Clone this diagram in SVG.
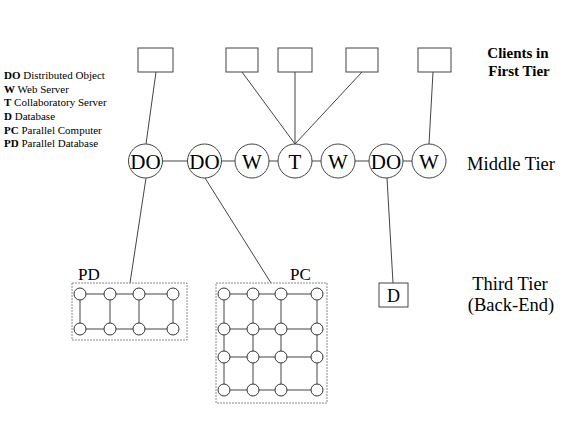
<svg xmlns="http://www.w3.org/2000/svg" width="575" height="431" viewBox="0 0 575 431">
<style>
.box{fill:#fff;stroke:#444;stroke-width:1}
.node{fill:#fff;stroke:#444;stroke-width:1}
.lbl{font-size:21px;text-anchor:middle}
.edge{stroke:#444;stroke-width:1;fill:none}
.cl{fill:none;stroke:#888;stroke-width:1;stroke-dasharray:2 1}
.sm{fill:#fff;stroke:#333;stroke-width:1}
.leg{font-size:11px}
.tier{font-size:18.5px}
</style>
<rect width="575" height="431" fill="#fff"/>
<g font-family="Liberation Serif" fill="#000">
<g id="connectors">
<line class="edge" x1="156" y1="72" x2="146" y2="144"/>
<line class="edge" x1="242" y1="72" x2="295" y2="144"/>
<line class="edge" x1="295" y1="72" x2="295" y2="144"/>
<line class="edge" x1="362" y1="72" x2="295" y2="144"/>
<line class="edge" x1="433" y1="72" x2="429" y2="144"/>
<line class="edge" x1="145" y1="161" x2="429" y2="161"/>
<line class="edge" x1="146" y1="178" x2="130" y2="283"/>
<line class="edge" x1="205" y1="178" x2="271" y2="283"/>
<line class="edge" x1="387" y1="178" x2="393" y2="283"/>
</g>
<g id="clients">
<rect id="client1" class="box" x="138" y="48" width="35" height="24"/>
<rect id="client2" class="box" x="226" y="48" width="32" height="24"/>
<rect id="client3" class="box" x="278" y="48" width="34" height="24"/>
<rect id="client4" class="box" x="346" y="48" width="32" height="24"/>
<rect id="client5" class="box" x="418" y="48" width="33" height="24"/>
</g>
<g id="do1"><circle class="node" cx="145.5" cy="161" r="17"/><text class="lbl" x="145.5" y="168.5">DO</text></g>
<g id="do2"><circle class="node" cx="204.5" cy="161" r="17"/><text class="lbl" x="204.5" y="168.5">DO</text></g>
<g id="w1"><circle class="node" cx="252" cy="161" r="17"/><text class="lbl" x="252" y="168.5">W</text></g>
<g id="t"><circle class="node" cx="295" cy="161" r="17"/><text class="lbl" x="295" y="168.5">T</text></g>
<g id="w2"><circle class="node" cx="338" cy="161" r="17"/><text class="lbl" x="338" y="168.5">W</text></g>
<g id="do3"><circle class="node" cx="386" cy="161" r="17"/><text class="lbl" x="386" y="168.5">DO</text></g>
<g id="w3"><circle class="node" cx="429" cy="161" r="17"/><text class="lbl" x="429" y="168.5">W</text></g>
<g id="d"><rect class="box" x="379" y="283" width="29" height="24"/><text x="393.5" y="302" font-size="18" text-anchor="middle">D</text></g>
<g id="pd">
<rect class="cl" x="72" y="283" width="115" height="57"/>
<text x="78" y="280" font-size="17">PD</text>
<g class="edge">
<line x1="80" y1="294" x2="173" y2="294"/>
<line x1="80" y1="329" x2="173" y2="329"/>
<line x1="80" y1="294" x2="80" y2="329"/>
<line x1="110" y1="294" x2="110" y2="329"/>
<line x1="139" y1="294" x2="139" y2="329"/>
<line x1="173" y1="294" x2="173" y2="329"/>
</g>
<circle class="sm" cx="80" cy="294" r="6"/><circle class="sm" cx="110" cy="294" r="6"/><circle class="sm" cx="139" cy="294" r="6"/><circle class="sm" cx="173" cy="294" r="6"/>
<circle class="sm" cx="80" cy="329" r="6"/><circle class="sm" cx="110" cy="329" r="6"/><circle class="sm" cx="139" cy="329" r="6"/><circle class="sm" cx="173" cy="329" r="6"/>
</g>
<g id="pc">
<rect class="cl" x="216" y="283" width="111" height="120"/>
<text x="290" y="280" font-size="17">PC</text>
<g class="edge">
<line x1="224" y1="294" x2="317" y2="294"/>
<line x1="224" y1="329" x2="317" y2="329"/>
<line x1="224" y1="357" x2="317" y2="357"/>
<line x1="224" y1="390" x2="317" y2="390"/>
<line x1="224" y1="294" x2="224" y2="390"/>
<line x1="253" y1="294" x2="253" y2="390"/>
<line x1="281" y1="294" x2="281" y2="390"/>
<line x1="317" y1="294" x2="317" y2="390"/>
</g>
<circle class="sm" cx="224" cy="294" r="6"/><circle class="sm" cx="253" cy="294" r="6"/><circle class="sm" cx="281" cy="294" r="6"/><circle class="sm" cx="317" cy="294" r="6"/>
<circle class="sm" cx="224" cy="329" r="6"/><circle class="sm" cx="253" cy="329" r="6"/><circle class="sm" cx="281" cy="329" r="6"/><circle class="sm" cx="317" cy="329" r="6"/>
<circle class="sm" cx="224" cy="357" r="6"/><circle class="sm" cx="253" cy="357" r="6"/><circle class="sm" cx="281" cy="357" r="6"/><circle class="sm" cx="317" cy="357" r="6"/>
<circle class="sm" cx="224" cy="390" r="6"/><circle class="sm" cx="253" cy="390" r="6"/><circle class="sm" cx="281" cy="390" r="6"/><circle class="sm" cx="317" cy="390" r="6"/>
</g>
<g id="legend" class="leg">
<text x="4" y="79"><tspan font-weight="bold">DO</tspan> Distributed Object</text>
<text x="4" y="92.5"><tspan font-weight="bold">W</tspan> Web Server</text>
<text x="4" y="106"><tspan font-weight="bold">T</tspan> Collaboratory Server</text>
<text x="4" y="120"><tspan font-weight="bold">D</tspan> Database</text>
<text x="4" y="133.5"><tspan font-weight="bold">PC</tspan> Parallel Computer</text>
<text x="4" y="147"><tspan font-weight="bold">PD</tspan> Parallel Database</text>
</g>
<g id="tiers">
<text x="518" y="58" font-size="15" font-weight="bold" text-anchor="middle">Clients in</text>
<text x="519" y="76" font-size="15" font-weight="bold" text-anchor="middle">First Tier</text>
<text class="tier" x="511" y="170" text-anchor="middle">Middle Tier</text>
<text class="tier" x="510" y="290" text-anchor="middle">Third Tier</text>
<text class="tier" x="511" y="311" text-anchor="middle">(Back-End)</text>
</g>
</g>
</svg>
